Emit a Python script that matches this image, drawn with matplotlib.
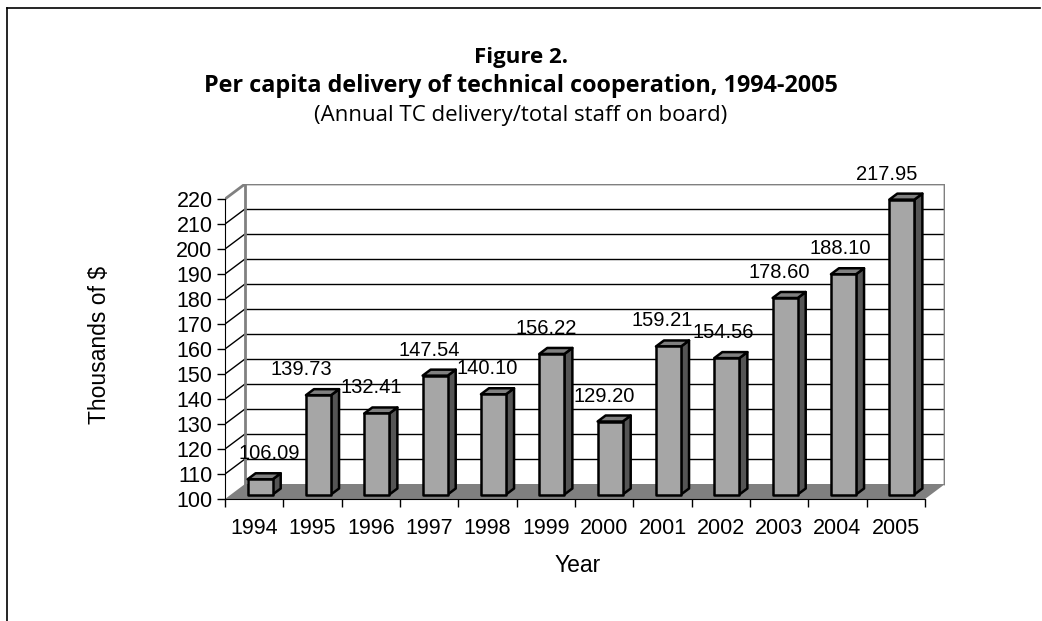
import matplotlib
matplotlib.use('Agg')
import matplotlib.pyplot as plt
from matplotlib.patches import Polygon
from matplotlib.lines import Line2D

# Data
years = ['1994', '1995', '1996', '1997', '1998', '1999',
         '2000', '2001', '2002', '2003', '2004', '2005']
values = [106.09, 139.73, 132.41, 147.54, 140.10, 156.22,
          129.20, 159.21, 154.56, 178.60, 188.10, 217.95]
y_ticks = list(range(100, 230, 10))

W, H = 1042, 621
fig = plt.figure(figsize=(W / 100, H / 100), dpi=100)
plt.rcParams['font.family'] = ['Liberation Sans', 'DejaVu Sans']

# axes box in pixels: front axis x=225..925 (12 cats), back wall reaches 945 / value 226
ax = fig.add_axes([225 / W, (H - 499) / H, 720 / W, 315 / H])
n = len(years)
DX = 20 / (700 / n)       # depth offset in category units
DY = 6.0                  # depth offset in value units
ax.set_xlim(0, n + DX)
ax.set_ylim(100, 226)

gray = '#808080'

# back wall
ax.add_patch(Polygon([(DX, 100 + DY), (n + DX, 100 + DY), (n + DX, 220 + DY), (DX, 220 + DY)],
                     closed=True, facecolor='white', edgecolor='none', zorder=0))
for v in y_ticks[1:-1]:
    ax.plot([DX, n + DX], [v + DY, v + DY], color='black', lw=1, zorder=1)
    ax.plot([0, DX], [v, v + DY], color='black', lw=1, zorder=1)
ax.plot([0, DX, n + DX, n + DX], [220, 220 + DY, 220 + DY, 100 + DY], color=gray, lw=2, zorder=1)
ax.plot([DX, DX], [100 + DY, 220 + DY], color=gray, lw=2, zorder=1)

# floor
ax.add_patch(Polygon([(0, 100), (n, 100), (n + DX, 100 + DY), (DX, 100 + DY)],
                     closed=True, facecolor=gray, edgecolor='none', zorder=2))

# 3d bars
w = 0.43
d0, d1 = 0.3, 0.7
for i, v in enumerate(values):
    xl = i + 0.5 - w / 2 + d0 * DX
    xr = xl + w
    yb = 100 + d0 * DY
    yt = v + d0 * DY
    ox, oy = (d1 - d0) * DX, (d1 - d0) * DY
    ax.add_patch(Polygon([(xr, yb), (xr + ox, yb + oy), (xr + ox, yt + oy), (xr, yt)],
                         closed=True, facecolor='#555555', edgecolor='black', lw=1.8,
                         joinstyle='round', zorder=3))
    ax.add_patch(Polygon([(xl, yt), (xr, yt), (xr + ox, yt + oy), (xl + ox, yt + oy)],
                         closed=True, facecolor=gray, edgecolor='black', lw=1.8,
                         joinstyle='round', zorder=3))
    ax.add_patch(Polygon([(xl, yb), (xr, yb), (xr, yt), (xl, yt)],
                         closed=True, facecolor='#a6a6a6', edgecolor='black', lw=1.8,
                         joinstyle='round', zorder=4))

nudge = [0.25, -0.2, 0, 0, 0, 0, 0, 0, 0.05, 0, 0.05, -0.15]
for i, v in enumerate(values):
    ax.text(i + 0.5 + nudge[i], v + 12, f'{v:.2f}', ha='center', va='center',
            fontsize=14.5, zorder=5)

# axes / ticks
for s in ['top', 'right']:
    ax.spines[s].set_visible(False)
ax.spines['left'].set_bounds(100, 220)
ax.spines['bottom'].set_bounds(0, n)
ax.spines['left'].set_zorder(6)
ax.spines['bottom'].set_zorder(6)
ax.set_yticks(y_ticks)
ax.set_yticklabels([str(t) for t in y_ticks])
ax.set_xticks([i + 0.5 for i in range(n)])
ax.set_xticklabels(years)
ax.set_xticks(range(n + 1), minor=True)
ax.tick_params(axis='x', which='major', length=0, labelsize=15.5, pad=14)
ax.tick_params(axis='x', which='minor', length=6, width=1)
ax.tick_params(axis='y', length=6, width=1, labelsize=15.5, pad=3)
ax.patch.set_visible(False)

fig.text(100 / W, 1 - 345 / H, 'Thousands of $', rotation=90, ha='center', va='center', fontsize=16.5)
fig.text(578 / W, 1 - 565 / H, 'Year', ha='center', va='center', fontsize=16.5)

title_font = ['Open Sans', 'DejaVu Sans']
fig.text(521 / W, 1 - 57 / H, 'Figure 2.', ha='center', va='center', fontsize=16,
         fontweight='bold', family=title_font)
fig.text(521 / W, 1 - 86 / H, 'Per capita delivery of technical cooperation, 1994-2005',
         ha='center', va='center', fontsize=16.8, fontweight='bold', family=title_font)
fig.text(521 / W, 1 - 116 / H, '(Annual TC delivery/total staff on board)',
         ha='center', va='center', fontsize=16, family=title_font)

# frame lines
fig.add_artist(Line2D([7 / W, 7 / W], [0, 1 - 8 / H], color='black', lw=1.2, transform=fig.transFigure))
fig.add_artist(Line2D([7 / W, 1040 / W], [1 - 8 / H, 1 - 8 / H], color='black', lw=1.2, transform=fig.transFigure))

fig.savefig('out.png', dpi=100)
